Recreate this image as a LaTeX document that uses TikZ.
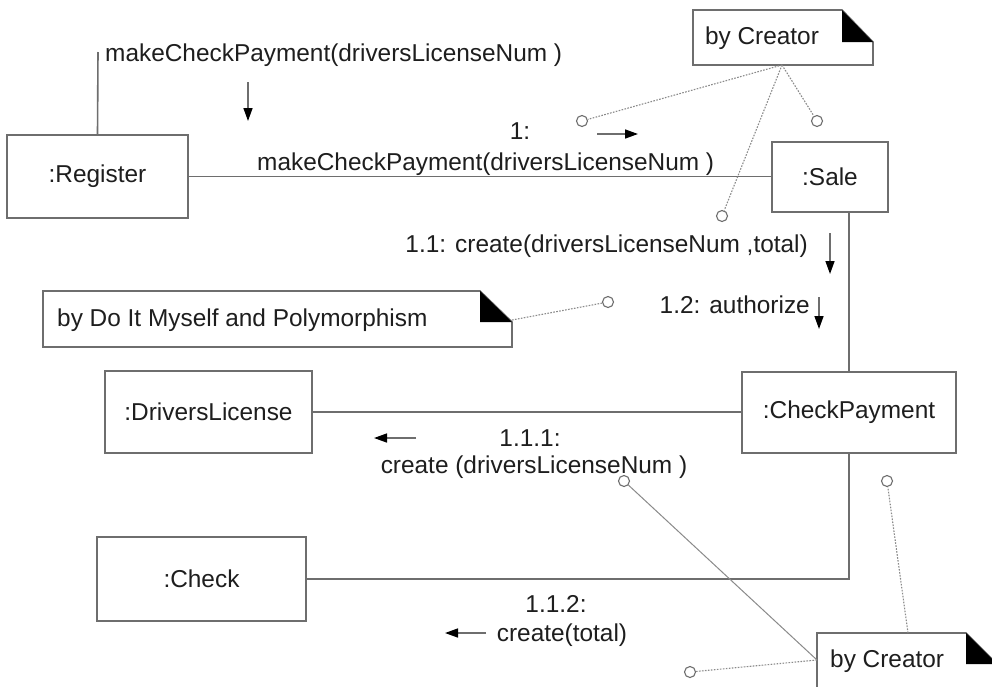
\documentclass[tikz,border=0pt]{standalone}
\usepackage{fontspec}
\setmainfont{Liberation Sans}
\usetikzlibrary{arrows.meta}
\definecolor{lin}{HTML}{6E6E6E}
\definecolor{txt}{HTML}{1E1E1E}
\definecolor{dot}{HTML}{8A8A8A}
\begin{document}
\begin{tikzpicture}[x=1pt,y=-1pt,
  font=\fontsize{24.4}{28}\selectfont,
  every node/.style={text=txt},
  objbox/.style={draw=lin,line width=1.6pt,fill=white,inner sep=0pt},
  link/.style={draw=lin,line width=1.6pt},
  notebox/.style={draw=lin,line width=1.6pt,fill=white},
  dotline/.style={draw=dot,line width=1.1pt,dash pattern=on 1.6pt off 1.4pt},
  pin/.style={circle,draw=lin,line width=1.1pt,fill=white,minimum size=11pt,inner sep=0pt},
  msgarrow/.style={draw=lin,line width=1.5pt,-{Triangle[length=13pt,width=9pt,color=black,fill=black]}},
  lbl/.style={inner sep=0pt}]
\useasboundingbox (0,0) rectangle (992,686);
\clip (0,0) rectangle (992,686);
\fill[white] (0,0) rectangle (992,686);

% objects
\node[objbox,minimum width=181pt,minimum height=83pt] (reg) at (97.5,176.5) {:Register};
\node[objbox,minimum width=116pt,minimum height=70pt] (sale) at (830,177) {:Sale};
\node[objbox,minimum width=207pt,minimum height=82pt] (dl) at (208.5,412) {:DriversLicense};
\node[objbox,minimum width=214pt,minimum height=81pt] (cp) at (849,412.5) {:CheckPayment};
\node[objbox,minimum width=209pt,minimum height=84pt] (chk) at (201.5,579) {:Check};

% links
\coordinate (regtop) at (98,52);
\draw[link] (reg.north) -- (regtop);
\draw[link] (reg.east) -- (reg.east -| sale.west);
\draw[link] (cp.north |- sale.south) -- (cp.north);
\draw[link] (dl.east) -- (dl.east -| cp.west);
\draw[link] (cp.south) -- (cp.south |- chk.east) -- (chk.east);

% messages
\node[lbl,anchor=west] (m0) at (105,55) {makeCheckPayment(driversLicenseNum )};
\coordinate (a0s) at (248,82); \coordinate (a0e) at (248,121);
\draw[msgarrow] (a0s) -- (a0e);

\node[lbl] (m1a) at (520,131) {1:};
\node[lbl,anchor=west] (m1b) at (257,164) {makeCheckPayment(driversLicenseNum )};
\coordinate (a1s) at (597,134); \coordinate (a1e) at (638,134);
\draw[msgarrow] (a1s) -- (a1e);

\node[lbl,anchor=east] (m11) at (808,246) {1.1: create(driversLicenseNum ,total)};
\coordinate (a11s) at (830,233); \coordinate (a11e) at (830,274);
\draw[msgarrow] (a11s) -- (a11e);

\node[lbl,anchor=east] (m12) at (810,305) {1.2: authorize};
\coordinate (a12s) at (819,297); \coordinate (a12e) at (819,329);
\draw[msgarrow] (a12s) -- (a12e);

\node[lbl] (m111a) at (530,438) {1.1.1:};
\node[lbl] (m111b) at (534,467) {create (driversLicenseNum )};
\coordinate (a111s) at (416,438); \coordinate (a111e) at (374,438);
\draw[msgarrow] (a111s) -- (a111e);

\node[lbl] (m112a) at (556,604) {1.1.2:};
\node[lbl] (m112b) at (562,635) {create(total)};
\coordinate (a112s) at (486,633); \coordinate (a112e) at (445,633);
\draw[msgarrow] (a112s) -- (a112e);

% note: by Creator (top)
\draw[notebox] (693,10) -- (842,10) -- (873,42) -- (873,65) -- (693,65) -- cycle;
\fill[black] (842,10) -- (842,42) -- (873,42) -- cycle;
\node[lbl] (n1) at (762,38) {by Creator};
\coordinate (n1p) at (782,65);

% note: by Do It Myself and Polymorphism
\draw[notebox] (43,291) -- (480,291) -- (512,322) -- (512,347) -- (43,347) -- cycle;
\fill[black] (480,291) -- (480,322) -- (512,322) -- cycle;
\node[lbl,anchor=west] (n2) at (57,320) {by Do It Myself and Polymorphism};
\coordinate (n2p) at (512,320);

% note: by Creator (bottom)
\draw[notebox] (817,633) -- (966,633) -- (997,664) -- (997,700) -- (817,700) -- cycle;
\fill[black] (966,633) -- (966,664) -- (997,664) -- cycle;
\node[lbl,anchor=west] (n3) at (830,661) {by Creator};
\coordinate (n3l) at (817,660);
\coordinate (n3t) at (908,633);

% pins
\node[pin] (p1) at (582,121) {};
\node[pin] (p2) at (817,121) {};
\node[pin] (p3) at (722,216) {};
\node[pin] (p4) at (608,302) {};
\node[pin] (p5) at (624,481) {};
\node[pin] (p6) at (887,481) {};
\node[pin] (p7) at (690,672) {};

% anchor lines
\draw[dotline] (n1p) -- (p1);
\draw[dotline] (n1p) -- (p2);
\draw[dotline] (n1p) -- (p3);
\draw[dotline] (n2p) -- (p4);
\draw[draw=dot,line width=1pt] (n3l) -- (p5);
\draw[dotline] (n3l) -- (p7);
\draw[dotline] (n3t) -- (p6);
\end{tikzpicture}
\end{document}
